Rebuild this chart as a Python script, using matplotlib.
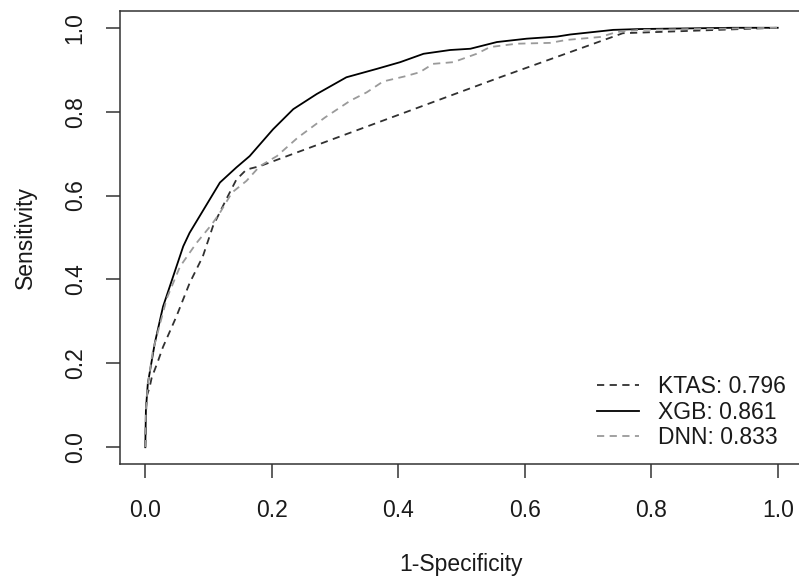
import matplotlib
matplotlib.use("Agg")
import matplotlib.pyplot as plt

plt.rcParams["font.family"] = ["Liberation Sans", "DejaVu Sans"]

# ROC-Punkte (1-Spezifität, Sensitivität)
ktas_fpr = [0.0, 0.002, 0.007, 0.010, 0.020, 0.028, 0.049, 0.070, 0.091, 0.107, 0.128, 0.144, 0.160, 0.181, 0.561, 0.755, 1.0]
ktas_tpr = [0.0, 0.120, 0.144, 0.165, 0.205, 0.239, 0.311, 0.391, 0.455, 0.527, 0.591, 0.638, 0.662, 0.670, 0.882, 0.987, 1.0]

xgb_fpr = [0.0, 0.001, 0.004, 0.015, 0.028, 0.044, 0.060, 0.070, 0.102, 0.118, 0.144, 0.165, 0.202, 0.234, 0.271,
           0.318, 0.366, 0.403, 0.440, 0.482, 0.514, 0.556, 0.603, 0.651, 0.672, 0.740, 0.782, 0.930, 1.0]
xgb_tpr = [0.0, 0.090, 0.152, 0.248, 0.335, 0.407, 0.479, 0.511, 0.591, 0.631, 0.667, 0.694, 0.758, 0.806, 0.842,
           0.882, 0.902, 0.918, 0.938, 0.947, 0.950, 0.966, 0.974, 0.979, 0.984, 0.995, 0.997, 1.0, 1.0]

dnn_fpr = [0.0, 0.001, 0.004, 0.012, 0.034, 0.055, 0.081, 0.105, 0.118, 0.137, 0.160, 0.181, 0.208, 0.241, 0.284,
           0.324, 0.350, 0.376, 0.410, 0.434, 0.455, 0.487, 0.524, 0.545, 0.587, 0.640, 0.666, 0.719, 0.746, 0.782, 1.0]
dnn_tpr = [0.0, 0.090, 0.150, 0.230, 0.355, 0.431, 0.487, 0.531, 0.559, 0.607, 0.635, 0.670, 0.694, 0.738, 0.786,
           0.826, 0.846, 0.872, 0.884, 0.894, 0.914, 0.918, 0.938, 0.954, 0.962, 0.964, 0.971, 0.978, 0.990, 0.995, 1.0]

labels = ["KTAS: 0.796", "XGB: 0.861", "DNN: 0.833"]
ticks = [0.0, 0.2, 0.4, 0.6, 0.8, 1.0]

W, H = 799, 581
fig = plt.figure(figsize=(W / 100, H / 100), dpi=100)
# Achsenbox wie im R-Plot (rechter Rand ist im Original abgeschnitten)
ax = fig.add_axes([120 / W, (H - 464) / H, (803 - 120) / W, (464 - 11) / H])

fs = 16.5
txt = "#1a1a1a"
ax.plot(ktas_fpr, ktas_tpr, color="#303030", lw=1.3, dashes=(4, 3), label=labels[0])
ax.plot(xgb_fpr, xgb_tpr, color="black", lw=1.3, label=labels[1])
ax.plot(dnn_fpr, dnn_tpr, color="#9a9a9a", lw=1.3, dashes=(4, 3), label=labels[2])

ax.set_xlim(-0.04, 1.04)
ax.set_ylim(-0.04, 1.04)
ax.set_xticks(ticks)
ax.set_yticks(ticks)
ax.set_xticklabels([f"{t:.1f}" for t in ticks])
ax.set_yticklabels([f"{t:.1f}" for t in ticks])
ax.tick_params(length=10, width=1.1, color="#333333", labelsize=fs, labelcolor=txt, pad=15)
ax.tick_params(axis="y", labelrotation=90, pad=14)
for t in ax.get_yticklabels():
    t.set_va("center")
for s in ax.spines.values():
    s.set_linewidth(1.1)
    s.set_color("#333333")

ax.set_xlabel("1-Specificity", fontsize=fs, color=txt)
ax.set_ylabel("Sensitivity", fontsize=fs, color=txt)
ax.xaxis.set_label_coords((461 - 120) / (803 - 120), -(565 - 464) / 453)
ax.yaxis.set_label_coords(-(120 - 25) / (803 - 120), 0.5)
ax.xaxis.label.set_va("center")
ax.yaxis.label.set_va("center")

leg = ax.legend(loc="upper left", bbox_to_anchor=(597 / W, 1 - 375 / H), bbox_transform=fig.transFigure,
                frameon=False, fontsize=fs, handlelength=1.85, handletextpad=0.8, labelspacing=0.12,
                borderpad=0, borderaxespad=0)
for t in leg.get_texts():
    t.set_color(txt)

fig.savefig("out.png", dpi=100)
